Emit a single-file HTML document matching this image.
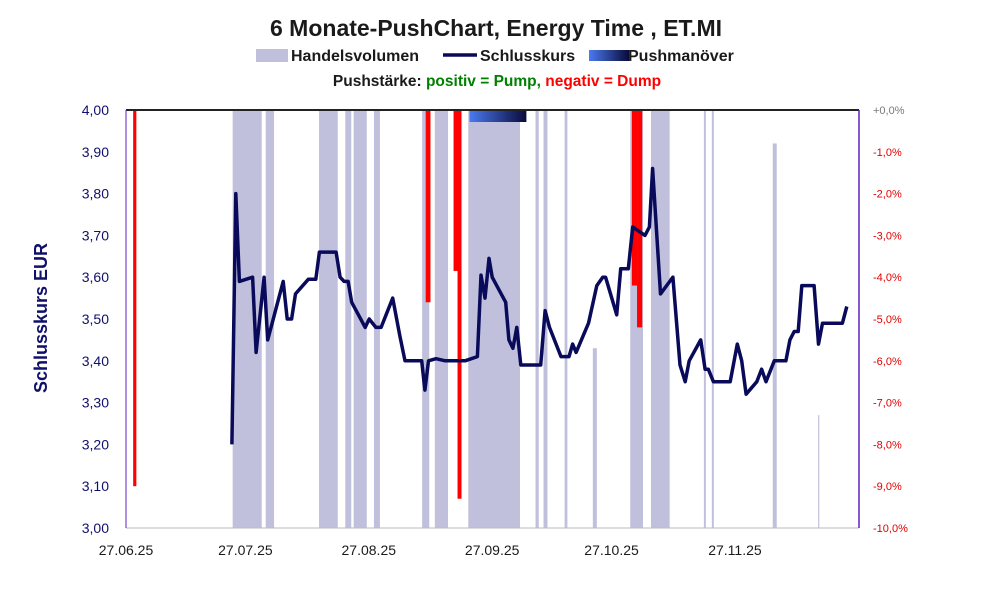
<!DOCTYPE html>
<html><head><meta charset="utf-8">
<style>
body{margin:0;background:#fff;font-family:"Liberation Sans",Arial,sans-serif}
svg{display:block}
</style></head>
<body>
<svg id="chart" width="991" height="593" viewBox="0 0 991 593">
<text x="496" y="36" text-anchor="middle" font-size="23" font-weight="bold" fill="#1a1a1a">6 Monate-PushChart, Energy Time , ET.MI</text>
<g>
<rect x="256" y="49" width="32" height="13" fill="#c0c0dc"/>
<text x="291" y="61" font-size="16" font-weight="bold" fill="#1a1a1a">Handelsvolumen</text>
<line x1="443" y1="55" x2="477" y2="55" stroke="#0a0a5a" stroke-width="3.5"/>
<text x="480" y="61" font-size="16" font-weight="bold" fill="#1a1a1a">Schlusskurs</text>
<defs><linearGradient id="pg" x1="0" x2="1" y1="0" y2="0"><stop offset="0" stop-color="#4a7af0"/><stop offset="1" stop-color="#0a0a3a"/></linearGradient></defs>
<rect x="589" y="50" width="40" height="11" fill="url(#pg)"/>
<text x="628" y="61" font-size="16" font-weight="bold" fill="#1a1a1a">Pushmanöver</text>
<text x="497" y="86" text-anchor="middle" font-size="15.5" font-weight="bold"><tspan fill="#1a1a1a">Pushstärke:  </tspan><tspan fill="#008000">positiv = Pump, </tspan><tspan fill="#ff0000"> negativ = Dump</tspan></text>
</g>
<text transform="translate(47,318) rotate(-90)" text-anchor="middle" font-size="18" font-weight="bold" fill="#10106a">Schlusskurs EUR</text>
<g id="vol"></g>
<g id="push"></g>
<g id="axes"></g>
<path id="line" fill="none" stroke="#0a0a5a" stroke-width="3.5" stroke-linejoin="round"/>
</svg>
<script>
// day offsets from 27.06.25
const priceDays=[26.6,27.6,28.5,31.8,32.7,34.7,35.6,39.5,40.5,41.6,42.6,45.8,47.7,48.6,52.8,53.8,54.8,55.8,56.7,60.1,61.1,62.8,64.1,67.0,68.8,70.1,74.3,75.1,76.0,77.9,80.2,85.2,88.3,89.2,90.2,91.2,92.0,95.4,96.2,97.2,98.2,99.2,104.2,105.3,106.4,109.3,111.3,112.2,113.1,116.2,118.3,119.8,120.5,123.3,124.3,126.2,127.3,130.4,131.5,132.3,134.3,137.4,139.2,140.5,141.5,144.4,145.5,146.3,147.6,151.8,153.6,154.7,155.8,158.5,159.7,160.8,162.9,165.8,166.8,167.9,168.9,169.8,172.9,174.0,175.0,180.0,181.1];
const priceVals=[3.20,3.80,3.59,3.60,3.42,3.60,3.45,3.59,3.50,3.50,3.56,3.595,3.595,3.66,3.66,3.60,3.59,3.59,3.54,3.48,3.50,3.48,3.48,3.55,3.46,3.40,3.40,3.33,3.40,3.405,3.40,3.40,3.41,3.605,3.55,3.645,3.60,3.54,3.45,3.43,3.48,3.39,3.39,3.52,3.48,3.41,3.41,3.44,3.42,3.49,3.58,3.60,3.60,3.51,3.62,3.62,3.72,3.70,3.72,3.86,3.56,3.60,3.39,3.35,3.40,3.45,3.38,3.38,3.35,3.35,3.44,3.40,3.32,3.35,3.38,3.35,3.40,3.40,3.45,3.47,3.47,3.58,3.58,3.44,3.49,3.49,3.53];
// volume bands: start day, end day, relative height (1 = full)
const volStart=[26.8,35.1,48.5,55.1,57.2,62.3,74.4,77.6,86.0,102.9,104.9,110.2,117.3,126.7,131.9,145.2,147.2,162.5,173.9];
const volEnd=[34.1,37.2,53.2,56.6,60.5,63.8,76.2,80.9,99.0,103.7,105.9,110.9,118.3,129.9,136.6,145.7,147.7,163.5,174.2];
const volHeight=[1,1,1,1,1,1,1,1,1,1,1,1,0.43,1,1,1,1,0.92,0.27];
// push bars: day, width(days), push strength %
const pushDays=[1.8,75.3,82.3,83.3,127.1,128.4];
const pushWidth=[0.8,1.2,1.2,1.0,1.3,1.3];
const pushVals=[-9.0,-4.6,-3.85,-9.3,-4.2,-5.2];
const pushManStart=86.3, pushManEnd=100.6;
const yTicks=["4,00","3,90","3,80","3,70","3,60","3,50","3,40","3,30","3,20","3,10","3,00"];
const pctTicks=["+0,0%","-1,0%","-2,0%","-3,0%","-4,0%","-5,0%","-6,0%","-7,0%","-8,0%","-9,0%","-10,0%"];
const xTickDays=[0,30,61,92,122,153];
const xTickLabels=["27.06.25","27.07.25","27.08.25","27.09.25","27.10.25","27.11.25"];

const L=126,R=859,T=110,B=528;
const x=d=>L+d*3.98;
const y=v=>T+(4-v)/1.0*(B-T);
const yp=p=>T+(-p)/10*(B-T);
const NS="http://www.w3.org/2000/svg";
function mk(tag,attrs,parent){const e=document.createElementNS(NS,tag);for(const k in attrs)e.setAttribute(k,attrs[k]);parent.appendChild(e);return e;}
const vol=document.getElementById('vol'),push=document.getElementById('push'),axes=document.getElementById('axes');
volStart.forEach((s,i)=>{
 const h=volHeight[i]*(B-T);
 const r=mk('rect',{x:x(s),y:B-h,width:Math.max(1,x(volEnd[i])-x(s)),height:h,fill:'#c0c0dc'},vol);
 
 
});
pushDays.forEach((d,i)=>{
 const r=mk('rect',{x:x(d),y:T,width:pushWidth[i]*3.98,height:yp(pushVals[i])-T,fill:'#ff0000'},push);
 
 
});
const pm=mk('rect',{x:x(pushManStart),y:T,width:x(pushManEnd)-x(pushManStart),height:12,fill:'url(#pg)'},push);


let f;
f=mk('line',{x1:L,y1:T,x2:R,y2:T,stroke:'#222',"stroke-width":2},axes);

f=mk('line',{x1:L,y1:B,x2:R,y2:B,stroke:'#bbb',"stroke-width":1},axes);

f=mk('line',{x1:L,y1:T,x2:L,y2:B,stroke:'#6020c0',"stroke-width":1},axes);

f=mk('line',{x1:R,y1:T,x2:R,y2:B,stroke:'#6020c0',"stroke-width":1.5},axes);

yTicks.forEach((t,i)=>{
 const yy=T+i*(B-T)/10;
 const e=mk('text',{x:109,y:yy+5,"text-anchor":"end","font-size":14,fill:'#10106a'},axes);e.textContent=t;
 
 
 const p=mk('text',{x:873,y:yy+4,"font-size":11,fill:i==0?'#777':'#e00000'},axes);p.textContent=pctTicks[i];
 
 
});
xTickDays.forEach((d,i)=>{
 const e=mk('text',{x:x(d),y:555,"text-anchor":"middle","font-size":14,fill:'#1a1a1a'},axes);e.textContent=xTickLabels[i];
 
 
});
document.getElementById('line').setAttribute('d',priceDays.map((d,i)=>(i?'L':'M')+x(d).toFixed(1)+','+y(priceVals[i]).toFixed(1)).join(''));
</script>
</body></html>
